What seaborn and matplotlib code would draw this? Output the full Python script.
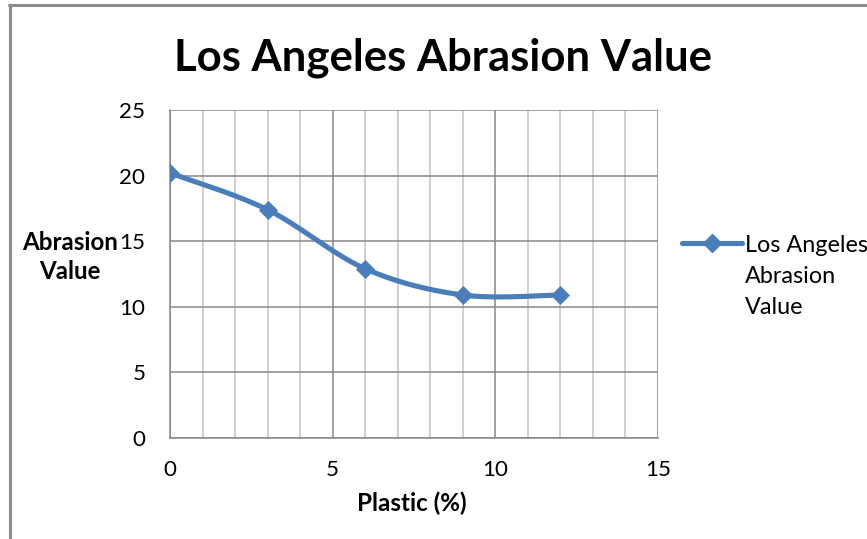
import numpy as np
import pandas as pd
import matplotlib
matplotlib.use("Agg")
import matplotlib.pyplot as plt
from matplotlib.lines import Line2D
import seaborn as sns

plastic_pct = [0, 3, 6, 9, 12]
abrasion = [20.2, 17.4, 12.9, 10.9, 10.9]
x_ticks = [0, 5, 10, 15]
y_ticks = [0, 5, 10, 15, 20, 25]
series_name = "Los Angeles Abrasion Value"
legend_lines = ["Los Angeles", "Abrasion", "Value"]

df = pd.DataFrame({"Plastic (%)": plastic_pct, "Abrasion Value": abrasion})

sns.set_theme(style="white")
plt.rcParams["font.family"] = ["Lato", "DejaVu Sans"]
plt.rcParams["text.color"] = "black"

W, H = 867, 539
BLUE = "#4a7ebb"
GRID_MAJOR = "#878787"
GRID_MINOR = "#c3c3c3"


def fx(px):
    return px / W


def fy(py):
    return 1 - py / H


def smooth_path(x, y, steps=40):
    """Bezier-smoothed path through the points, like a spreadsheet smoothed line."""
    x = np.asarray(x, float)
    y = np.asarray(y, float)
    px = np.concatenate([[x[0]], x, [x[-1]]])
    py = np.concatenate([[y[0]], y, [y[-1]]])
    xs, ys = [], []
    for i in range(1, len(px) - 2):
        p0, p1, p2, p3 = (np.array([px[j], py[j]]) for j in (i - 1, i, i + 1, i + 2))
        c1 = p1 + (p2 - p0) / 6
        c2 = p2 - (p3 - p1) / 6
        t = np.linspace(0, 1, steps)[:, None]
        pts = ((1 - t) ** 3) * p1 + 3 * ((1 - t) ** 2) * t * c1 + 3 * (1 - t) * t ** 2 * c2 + t ** 3 * p2
        xs.extend(pts[:, 0])
        ys.extend(pts[:, 1])
    return np.array(xs), np.array(ys)


fig = plt.figure(figsize=(W / 100, H / 100), dpi=100)
renderer = fig.canvas.get_renderer()


def size_for_width(text, width_px, **kw):
    """Font size at which `text` renders `width_px` pixels wide."""
    probe = fig.text(0, 0, text, fontsize=20, **kw)
    w = probe.get_window_extent(renderer).width
    probe.remove()
    return 20 * width_px / w


ax = fig.add_axes([fx(170), fy(438), fx(658) - fx(170), fy(110) - fy(438)])

# outer chart frame (left and top edges)
fig.add_artist(Line2D([fx(9.5), fx(9.5)], [fy(5), 0], transform=fig.transFigure,
                      color="#8c8c8c", linewidth=2.2))
fig.add_artist(Line2D([fx(8.5), 1], [fy(5), fy(5)], transform=fig.transFigure,
                      color="#8c8c8c", linewidth=2.2))

sx, sy = smooth_path(plastic_pct, abrasion)
sns.lineplot(x=sx, y=sy, ax=ax, color=BLUE, linewidth=3.7, sort=False,
             estimator=None, zorder=3)
sns.scatterplot(data=df, x="Plastic (%)", y="Abrasion Value", ax=ax, marker="D",
                s=95, color=BLUE, edgecolor=BLUE, linewidth=0, zorder=4)

tick_fs = size_for_width("10", 26)
ax.set_xlim(0, 15)
ax.set_ylim(0, 25)
ax.set_xticks(x_ticks)
ax.set_yticks(y_ticks)
ax.set_xticks(np.arange(0, 16, 1), minor=True)
ax.set_xticklabels([str(v) for v in x_ticks], fontsize=tick_fs)
ax.set_yticklabels([str(v) for v in y_ticks], fontsize=tick_fs)

ax.grid(True, which="major", color=GRID_MAJOR, linewidth=1.1, zorder=1)
ax.grid(True, which="minor", axis="x", color=GRID_MINOR, linewidth=1.1, zorder=1)
ax.set_axisbelow(True)

for side in ("top", "right"):
    ax.spines[side].set_visible(False)
for side in ("left", "bottom"):
    ax.spines[side].set_color(GRID_MAJOR)
    ax.spines[side].set_linewidth(1.1)

ax.tick_params(axis="both", which="major", direction="out", length=5.8, width=1.1,
               color=GRID_MAJOR, labelcolor="black")
ax.tick_params(axis="x", which="major", pad=10)
ax.tick_params(axis="y", which="major", pad=12)
ax.tick_params(axis="x", which="minor", length=0)
ax.set_xlabel("")
ax.set_ylabel("")

# axis titles
xl_fs = size_for_width("Plastic (%)", 110, fontweight="bold")
fig.text(fx(412), fy(503), "Plastic (%)", ha="center", va="center",
         fontsize=xl_fs, fontweight="bold")
yl_fs = size_for_width("Abrasion", 96, fontweight="bold")
fig.text(fx(70), fy(257), "Abrasion\nValue", ha="center", va="center",
         multialignment="center", fontsize=yl_fs, fontweight="bold", linespacing=1.35)

# chart title
title_fs = size_for_width(series_name, 538, fontweight="bold")
fig.text(fx(443), fy(70), series_name, ha="center", va="baseline",
         fontsize=title_fs, fontweight="bold")

# legend: handle on the first line, remaining words wrapped below
leg_fs = size_for_width(legend_lines[0], 123)
leg = ax.legend(handles=[Line2D([], [], color=BLUE, linewidth=3.7, marker="D",
                                markersize=9.5)],
                labels=[legend_lines[0]], loc="center left",
                bbox_to_anchor=(fx(682), fy(245)), bbox_transform=fig.transFigure,
                frameon=False, fontsize=leg_fs, handlelength=2.55, handletextpad=0.12,
                borderpad=0, borderaxespad=0)
fig.canvas.draw()
first = leg.get_texts()[0].get_window_extent(renderer)
for i, word in enumerate(legend_lines[1:], start=1):
    fig.text(first.x0 / fig.bbox.width, fy(245 + 31.5 * i), word,
             ha="left", va="center", fontsize=leg_fs)

fig.savefig("out.png", dpi=100)
